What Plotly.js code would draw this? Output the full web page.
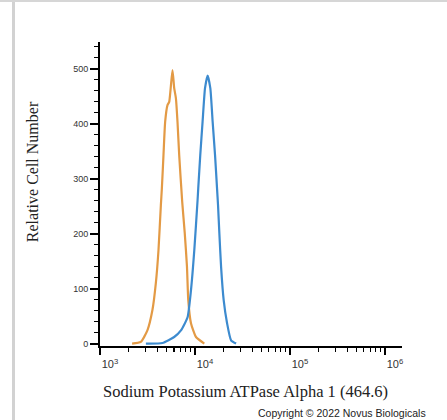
<!DOCTYPE html>
<html>
<head>
<meta charset="utf-8">
<script src="https://cdn.plot.ly/plotly-3.0.1.min.js"></script>
<style>
  html, body { margin: 0; padding: 0; background: #ffffff; }
  #chart { position: absolute; left: 0; top: 0; width: 447px; height: 420px; }
  #frameLeft { position: absolute; left: 12px; top: 0; width: 3px; height: 420px; background: #d2d2d2; z-index: 5; }
  #frameTop { position: absolute; left: 0; top: 0; width: 447px; height: 2px; background: #d6d6d6; z-index: 5; }
</style>
</head>
<body>
<div id="chart"></div>
<div id="frameLeft"></div>
<div id="frameTop"></div>
<script>
// Orange histogram (control / isotype)
const orangeX = [2178, 2692, 3155, 3565, 3872, 4128, 4375, 4483, 4660, 4855, 5136, 5355, 5799, 6043, 6297, 6546, 6823, 7340, 7805, 8238, 8500, 9075, 10250, 12540];
const orangeY = [0, 3, 24, 61, 110, 170, 252, 283, 343, 404, 434, 440, 498, 465, 447, 404, 343, 258, 201, 140, 79, 37, 12, 0];

// Blue histogram (Sodium Potassium ATPase Alpha 1)
const blueX = [3043, 4550, 6043, 7117, 8356, 9075, 9840, 10650, 10830, 11370, 12030, 12760, 13600, 14510, 15350, 16270, 17070, 17490, 18060, 18830, 20060, 21780, 23990, 27100];
const blueY = [0, 1, 12, 24, 48, 97, 170, 261, 283, 343, 404, 465, 488, 465, 404, 343, 283, 252, 201, 140, 79, 37, 6, 0];

// Tick positions / labels on the log axis
const majorTickVals = [1000, 10000, 100000, 1000000];
const majorTickText = ["10<sup>3</sup>", "10<sup>4</sup>", "10<sup>5</sup>", "10<sup>6</sup>"];
const minorTickVals = [2000, 3000, 4000, 5000, 6000, 7000, 8000, 9000,
                       20000, 30000, 40000, 50000, 60000, 70000, 80000, 90000,
                       200000, 300000, 400000, 500000, 600000, 700000, 800000, 900000];

const xTitle = "Sodium Potassium ATPase Alpha 1 (464.6)";
const yTitle = "Relative Cell Number";
const copyright = "Copyright \u00A9 2022 Novus Biologicals";

// all ticks on the main axis (short), majors get labels
const allTickVals = majorTickVals.concat(minorTickVals);
const allTickText = majorTickText.concat(minorTickVals.map(() => ""));

const traces = [
  { x: orangeX, y: orangeY, type: 'scatter', mode: 'lines',
    line: { color: '#e39a45', width: 2.2, shape: 'spline', smoothing: 0.5 }, hoverinfo: 'skip' },
  { x: blueX, y: blueY, type: 'scatter', mode: 'lines',
    line: { color: '#3d8bcf', width: 2.2, shape: 'spline', smoothing: 0.5 }, hoverinfo: 'skip' },
  { x: [1000], y: [0], xaxis: 'x2', type: 'scatter', mode: 'markers',
    marker: { opacity: 0 }, hoverinfo: 'skip' }
];

const layout = {
  width: 447, height: 420,
  margin: { l: 100, r: 45, t: 42, b: 74, pad: 0 },
  paper_bgcolor: '#ffffff', plot_bgcolor: '#ffffff',
  showlegend: false,
  xaxis: {
    type: 'log', range: [3, 6.18],
    tickmode: 'array', tickvals: allTickVals, ticktext: allTickText,
    showgrid: false, zeroline: false,
    showline: true, linecolor: '#000', linewidth: 2,
    ticks: 'outside', ticklen: 4, tickwidth: 1.2, tickcolor: '#000',
    ticklabelshift: 10, ticklabelstandoff: 3,
    tickfont: { family: 'Liberation Sans, Arial, sans-serif', size: 11, color: '#333' }
  },
  xaxis2: {
    type: 'log', range: [3, 6.18], overlaying: 'x', side: 'bottom', anchor: 'y',
    tickmode: 'array', tickvals: majorTickVals, showticklabels: false,
    showgrid: false, zeroline: false, showline: false,
    ticks: 'outside', ticklen: 8, tickwidth: 2, tickcolor: '#000'
  },
  yaxis: {
    range: [-4.4, 549],
    dtick: 100, tick0: 0,
    showgrid: false, zeroline: false,
    showline: true, linecolor: '#000', linewidth: 2,
    ticks: 'outside', ticklen: 8, tickwidth: 2, tickcolor: '#000',
    tickfont: { family: 'Liberation Sans, Arial, sans-serif', size: 9, color: '#333' },
    minor: { ticks: 'outside', ticklen: 4, tickwidth: 1, tickcolor: '#000', dtick: 20, showgrid: false }
  },
  annotations: [
    { text: xTitle, xref: 'paper', yref: 'paper', x: 0.483, y: -0.149,
      xanchor: 'center', yanchor: 'middle', showarrow: false,
      font: { family: 'Liberation Serif, Times New Roman, serif', size: 16.5, color: '#222' } },
    { text: yTitle, xref: 'paper', yref: 'paper', x: -0.225, y: 0.572,
      xanchor: 'center', yanchor: 'middle', showarrow: false, textangle: -90,
      font: { family: 'Liberation Serif, Times New Roman, serif', size: 16, color: '#222' } },
    { text: copyright, xref: 'paper', yref: 'paper', x: 0.517, y: -0.222,
      xanchor: 'left', yanchor: 'middle', showarrow: false,
      font: { family: 'Liberation Sans, Arial, sans-serif', size: 10.5, color: '#222' } }
  ]
};

Plotly.newPlot('chart', traces, layout, { staticPlot: true, displayModeBar: false });
</script>
</body>
</html>
